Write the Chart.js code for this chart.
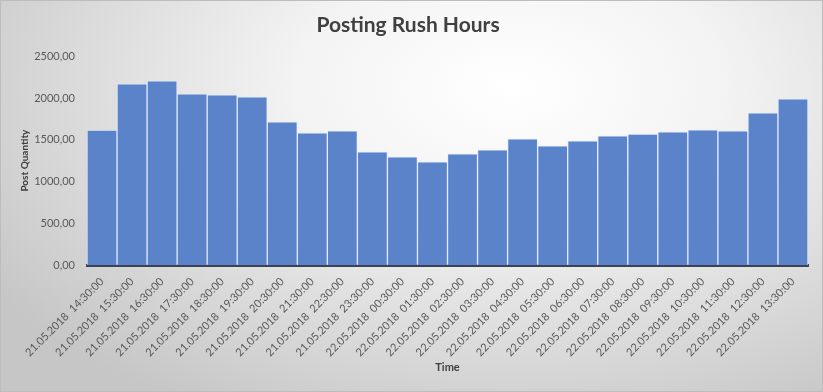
<!DOCTYPE html>
<html>
<head>
<meta charset="utf-8">
<script src="https://cdn.jsdelivr.net/npm/chart.js@4/dist/chart.umd.min.js"></script>
<style>
  body { margin: 0; }
  #wrap {
    position: relative; width: 823px; height: 392px;
    background: radial-gradient(ellipse 75% 95% at 62% 22%, #ffffff 0%, #f3f3f3 35%, #d4d4d4 80%, #c6c6c6 100%);
    box-shadow: inset 0 0 0 1px #bdbdbd;
  }
  canvas { position: absolute; left: 0; top: 0; }
</style>
</head>
<body>
<div id="wrap"><canvas id="rushchart" width="823" height="392"></canvas></div>
<script>
var times = ['14:30:00', '15:30:00', '16:30:00', '17:30:00', '18:30:00', '19:30:00', '20:30:00', '21:30:00',
    '22:30:00', '23:30:00', '00:30:00', '01:30:00', '02:30:00', '03:30:00', '04:30:00', '05:30:00',
    '06:30:00', '07:30:00', '08:30:00', '09:30:00', '10:30:00', '11:30:00', '12:30:00', '13:30:00'];
var days = ['21.05.2018', '21.05.2018', '21.05.2018', '21.05.2018', '21.05.2018', '21.05.2018', '21.05.2018', '21.05.2018',
    '21.05.2018', '21.05.2018', '22.05.2018', '22.05.2018', '22.05.2018', '22.05.2018', '22.05.2018', '22.05.2018',
    '22.05.2018', '22.05.2018', '22.05.2018', '22.05.2018', '22.05.2018', '22.05.2018', '22.05.2018', '22.05.2018'];
var postCounts = [1615, 2169, 2205, 2049, 2037, 2013, 1714, 1583, 1607, 1355, 1296, 1236,
    1331, 1379, 1511, 1427, 1487, 1547, 1567, 1595, 1619, 1607, 1822, 1989];
var yTicks = [0, 500, 1000, 1500, 2000, 2500];

var labels = days.map(function (d, i) { return d + '  ' + times[i]; });

var rushctx = document.getElementById('rushchart').getContext('2d');
var rushchart = new Chart(rushctx, {
    type: 'bar',
    data: {
        labels: labels,
        datasets: [{
            label: 'Post Quantity',
            data: postCounts,
            backgroundColor: '#5a83c9',
            borderColor: 'rgba(225, 235, 255, 0.75)',
            borderWidth: 1,
            borderSkipped: 'bottom',
            categoryPercentage: 1.0,
            barPercentage: 1.0
        }]
    },
    options: {
        responsive: false,
        animation: false,
        devicePixelRatio: 1,
        layout: { padding: { left: 8, right: 15, top: 0, bottom: 0 } },
        plugins: {
            legend: { display: false },
            tooltip: { enabled: false },
            title: {
                display: true,
                text: 'Posting Rush Hours',
                color: '#404040',
                font: { family: 'Lato', size: 21, weight: 'bold' },
                padding: { top: 13, bottom: 18 }
            }
        },
        scales: {
            x: {
                grid: { display: false },
                border: { display: true, color: '#3d4252', width: 3 },
                ticks: {
                    color: '#595959',
                    font: { family: 'Lato', size: 11 },
                    minRotation: 45,
                    maxRotation: 45,
                    autoSkip: false,
                    padding: 2
                },
                title: {
                    display: true,
                    text: 'Time',
                    color: '#404040',
                    font: { family: 'Lato', size: 11, weight: 'bold' },
                    padding: { top: 4, bottom: 18 }
                },
                afterFit: function (scale) { scale.height = 127; }
            },
            y: {
                min: 0,
                max: 2500,
                grid: { display: false, drawTicks: false },
                border: { display: false },
                afterBuildTicks: function (scale) {
                    scale.ticks = yTicks.map(function (v) { return { value: v }; });
                },
                ticks: {
                    color: '#595959',
                    font: { family: 'Lato', size: 11 },
                    padding: 12,
                    callback: function (v) { return v.toFixed(2).replace('.', ','); }
                },
                title: {
                    display: true,
                    text: 'Post Quantity',
                    color: '#404040',
                    font: { family: 'Lato', size: 10, weight: 'bold' },
                    padding: { top: 11, bottom: 4 }
                },
                afterFit: function (scale) { scale.width = 79; }
            }
        }
    }
});
</script>
</body>
</html>
